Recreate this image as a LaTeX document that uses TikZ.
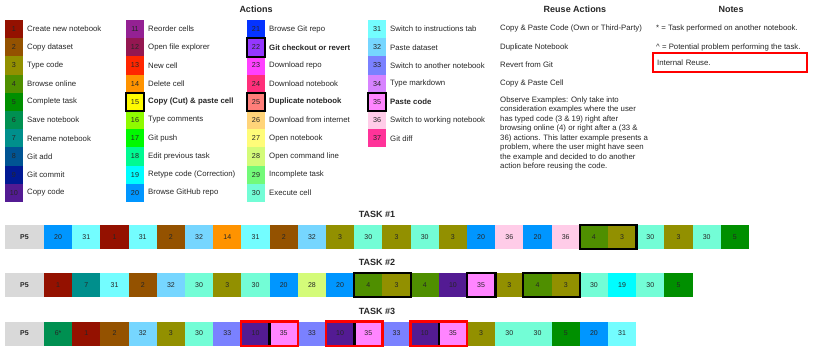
\documentclass[tikz,border=0pt]{standalone}
\usepackage{fontspec}
\setmainfont{Liberation Sans}
\usetikzlibrary{fit}

\definecolor{a1}{HTML}{941100}
\definecolor{a2}{HTML}{945200}
\definecolor{a3}{HTML}{929000}
\definecolor{a4}{HTML}{4F8F00}
\definecolor{a5}{HTML}{008F00}
\definecolor{a6}{HTML}{009051}
\definecolor{a7}{HTML}{008F8C}
\definecolor{a8}{HTML}{005493}
\definecolor{a9}{HTML}{011993}
\definecolor{a10}{HTML}{531B93}
\definecolor{a11}{HTML}{942193}
\definecolor{a12}{HTML}{941751}
\definecolor{a13}{HTML}{FF2600}
\definecolor{a14}{HTML}{FF9300}
\definecolor{a15}{HTML}{FFFB00}
\definecolor{a16}{HTML}{8EFA00}
\definecolor{a17}{HTML}{00F900}
\definecolor{a18}{HTML}{00FA92}
\definecolor{a19}{HTML}{00FDFF}
\definecolor{a20}{HTML}{0096FF}
\definecolor{a21}{HTML}{0433FF}
\definecolor{a22}{HTML}{9437FF}
\definecolor{a23}{HTML}{FF40FF}
\definecolor{a24}{HTML}{FF2F7A}
\definecolor{a25}{HTML}{FF7E79}
\definecolor{a26}{HTML}{FFD479}
\definecolor{a27}{HTML}{FFFC79}
\definecolor{a28}{HTML}{D4FB79}
\definecolor{a29}{HTML}{73FA79}
\definecolor{a30}{HTML}{73FDD6}
\definecolor{a31}{HTML}{73FDFF}
\definecolor{a32}{HTML}{76D6FF}
\definecolor{a33}{HTML}{7A81FF}
\definecolor{a34}{HTML}{D783FF}
\definecolor{a35}{HTML}{FF85FF}
\definecolor{a36}{HTML}{FFCCE8}
\definecolor{a37}{HTML}{FF3399}
\definecolor{p5gray}{HTML}{D9D9D9}

\begin{document}
\begin{tikzpicture}[x=1pt, y=-1pt,
    every node/.style={inner sep=0pt, text=black!85},
    txt/.style={font=\fontsize{7.8}{9.5}\selectfont},
    head/.style={font=\fontsize{9}{11}\selectfont\bfseries},
    swatch/.style={minimum width=18pt, minimum height=18.2pt, font=\fontsize{7.2}{8}\selectfont},
    cell/.style={minimum width=28.2pt, minimum height=24pt, font=\fontsize{7}{8}\selectfont},
    pfive/.style={cell, minimum width=39pt, fill=p5gray, font=\fontsize{7}{8}\selectfont\bfseries},
    pick/.style={draw=black, line width=2.2pt},
    reuse/.style={draw=red, line width=2.4pt}]
    \useasboundingbox (0,0) rectangle (814,351);

    \node[head] (h-act) at (256,9) {Actions};
    \node[head] (h-reuse) at (575,9) {Reuse Actions};
    \node[head] (h-notes) at (731,9) {Notes};

    \foreach \n/\lab [count=\i from 0] in {1/Create new notebook, 2/Copy dataset,
        3/Type code, 4/Browse online, 5/Complete task, 6/Save notebook,
        7/Rename notebook, 8/Git add, 9/Git commit, 10/Copy code,
        11/Reorder cells, 12/Open file explorer, 13/New cell, 14/Delete cell,
        15/\textbf{Copy (Cut) \& paste cell}, 16/Type comments, 17/Git push,
        18/Edit previous task, 19/Retype code (Correction), 20/Browse GitHub repo,
        21/Browse Git repo, 22/\textbf{Git checkout or revert}, 23/Download repo,
        24/Download notebook, 25/\textbf{Duplicate notebook}, 26/Download from internet,
        27/Open notebook, 28/Open command line, 29/Incomplete task, 30/Execute cell,
        31/Switch to instructions tab, 32/Paste dataset, 33/Switch to another notebook,
        34/Type markdown, 35/\textbf{Paste code}, 36/Switch to working notebook,
        37/Git diff} {
      \pgfmathsetmacro\kx{5+121*int(\i/10)}
      \pgfmathsetmacro\ky{29.1+18.2*mod(\i,10)}
      \node[swatch, fill=a\n] (key\n) at (\kx+9,\ky) {\n};
      \node[txt, anchor=west] (key\n-txt) at (\kx+22,\ky) {\lab};
    }
    \foreach \n in {15,22,25,35}
      \node[pick, fit=(key\n)] {};

    \node[txt, anchor=west] (r-copy) at (500,28) {Copy \& Paste Code (Own or Third-Party)};
    \node[txt, anchor=west] (r-dup) at (500,47) {Duplicate Notebook};
    \node[txt, anchor=west] (r-git) at (500,65) {Revert from Git};
    \node[txt, anchor=west] (r-cell) at (500,83) {Copy \& Paste Cell};
    \node[txt, align=left, anchor=north west] (r-obs) at (500,96.5)
        {Observe Examples: Only take into\\consideration examples where the user\\
         has typed code (3 \& 19) right after\\browsing online (4) or right after a (33 \&\\
         36) actions. This latter example presents a\\problem, where the user might have seen\\
         the example and decided to do another\\action before reusing the code.};

    \node[txt, anchor=west] (n-star) at (656,28) {* = Task performed on another notebook.};
    \node[txt, anchor=west] (n-hat) at (656,47) {\^{} = Potential problem performing the task.};
    \node[reuse, txt, anchor=west, minimum height=19pt, text width=146pt, inner xsep=4pt,
        align=left] (n-int) at (652,62.5) {Internal Reuse.};

    % task rows
    \node[head] (task1) at (377,214) {TASK \#1};
    \node[pfive] (t1-p) at (24.5,237) {P5};
    \foreach \v [count=\i from 0] in {20,31,1,31,2,32,14,31,2,32,3,30,3,30,3,20,36,20,36,4,3,30,3,30,5}
      \node[cell, fill=a\v] (t1-\i) at ({44+28.2*(\i+0.5)},237) {\v};
    \node[pick, fit=(t1-19)(t1-20)] (g1) {};

    \node[head] (task2) at (377,262) {TASK \#2};
    \node[pfive] (t2-p) at (24.5,285) {P5};
    \foreach \v [count=\i from 0] in {1,7,31,2,32,30,3,30,20,28,20,4,3,4,10,35,3,4,3,30,19,30,5}
      \node[cell, fill=a\v] (t2-\i) at ({44+28.2*(\i+0.5)},285) {\v};
    \node[pick, fit=(t2-11)(t2-12)] (g2) {};
    \node[pick, fit=(t2-15)] (g3) {};
    \node[pick, fit=(t2-17)(t2-18)] (g4) {};

    \node[head] (task3) at (377,311) {TASK \#3};
    \node[pfive] (t3-p) at (24.5,333.5) {P5};
    \node[cell, fill=a6] (t3-0) at (58.1,333.5) {6*};
    \foreach \v [count=\i from 1] in {1,2,32,3,30,33,10,35,33,10,35,33,10,35,3,30,30,5,20,31}
      \node[cell, fill=a\v] (t3-\i) at ({44+28.2*(\i+0.5)},333.5) {\v};
    \foreach \a/\b in {7/8,10/11,13/14} {
      \node[pick, fit=(t3-\a)] {};
      \node[pick, fit=(t3-\b)] {};
      \node[reuse, fit=(t3-\a)(t3-\b)] (red\a) {};
    }
\end{tikzpicture}
\end{document}
